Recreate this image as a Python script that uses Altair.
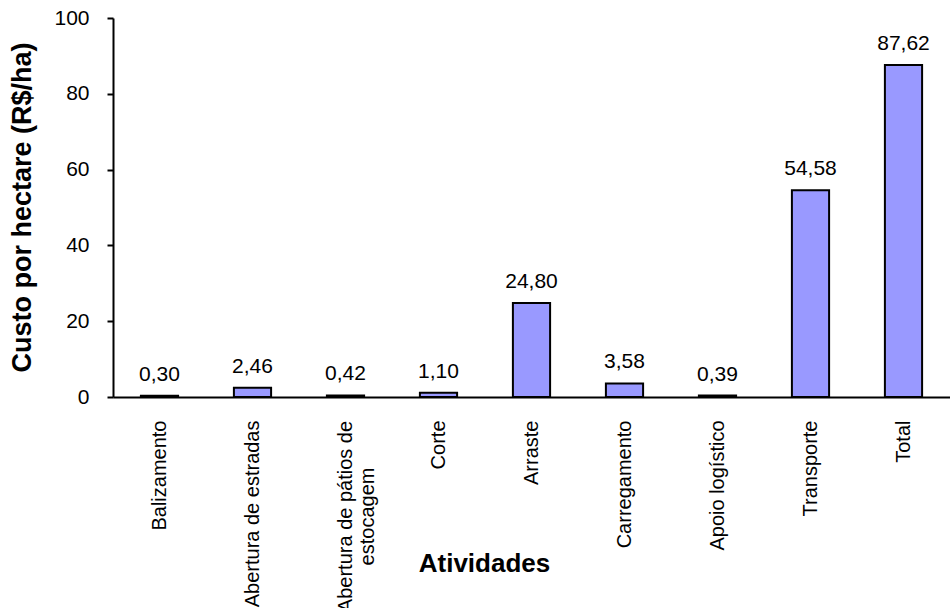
import altair as alt
import pandas as pd

categories = [
    "Balizamento",
    "Abertura de estradas",
    "Abertura de pátios de estocagem",
    "Corte",
    "Arraste",
    "Carregamento",
    "Apoio logístico",
    "Transporte",
    "Total",
]
values = [0.30, 2.46, 0.42, 1.10, 24.80, 3.58, 0.39, 54.58, 87.62]
y_ticks = [0, 20, 40, 60, 80, 100]

df = pd.DataFrame({"atividade": categories, "custo": values})
df["rotulo"] = [f"{v:.2f}".replace(".", ",") for v in values]

FONT = "Liberation Sans"
MULTI = "Abertura de pátios de estocagem"
test_multi = f"datum.value == '{MULTI}'"

x_enc = alt.X(
    "atividade:N",
    sort=categories,
    title="Atividades",
    scale=alt.Scale(paddingInner=0.6, paddingOuter=0.3),
    axis=alt.Axis(
        labelAngle=-90,
        labelAlign={"condition": {"test": test_multi, "value": "center"}, "value": "right"},
        labelBaseline="middle",
        labelPadding={"condition": {"test": test_multi, "value": 119}, "value": 23},
        labelExpr=f"datum.value == '{MULTI}' ? ['Abertura de pátios de', 'estocagem'] : datum.label",
        labelLineHeight=22,
        labelFontSize=20,
        labelFont=FONT,
        labelColor="black",
        labelLimit=400,
        ticks=False,
        tickSize=0,
        domainColor="black",
        domainWidth=2,
        titleFont=FONT,
        titleFontSize=26,
        titleFontWeight="bold",
        titleColor="black",
        titleAlign="center",
        titleBaseline="alphabetic",
        titleX=371,
        titleY=174,
    ),
)

y_enc = alt.Y(
    "custo:Q",
    title="Custo por hectare  (R$/ha)",
    scale=alt.Scale(domain=[0, 100], nice=False),
    axis=alt.Axis(
        values=y_ticks,
        grid=False,
        tickSize=6,
        tickWidth=2,
        tickColor="black",
        domainColor="black",
        domainWidth=2,
        labelFontSize=21,
        labelFont=FONT,
        labelColor="black",
        labelPadding=18,
        titleFont=FONT,
        titleFontSize=27,
        titleFontWeight="bold",
        titleColor="black",
        titleAngle=-90,
        titleAlign="center",
        titleBaseline="middle",
        titleX=-91,
        titleY=189,
    ),
)

bars = alt.Chart(df).mark_bar(
    fill="#9999FF", stroke="black", strokeWidth=2
).encode(x=x_enc, y=y_enc)

labels = alt.Chart(df).mark_text(
    baseline="alphabetic", dy=-15, fontSize=21, font=FONT, color="black"
).encode(x=alt.X("atividade:N", sort=categories), y="custo:Q", text="rotulo:N")

chart = (
    alt.layer(bars, labels)
    .properties(
        width=837,
        height=379,
        autosize=alt.AutoSizeParams(type="none"),
        padding={"left": 113, "top": 18, "right": 0, "bottom": 211},
        background="white",
    )
    .configure_view(stroke=None)
)

chart.save("out.html", embed_options={"renderer": "svg", "actions": False})
